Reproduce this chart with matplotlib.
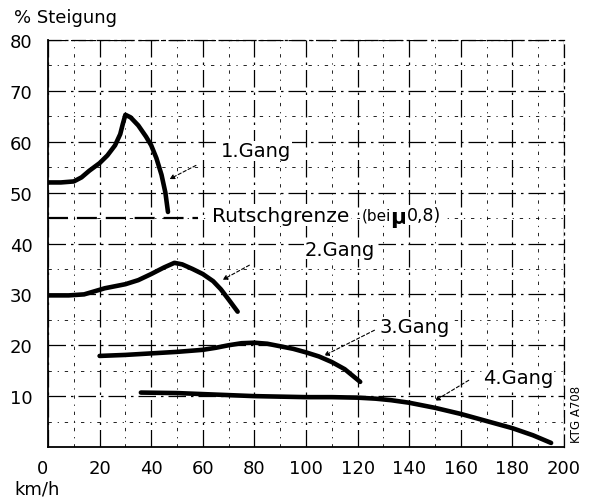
import matplotlib.pyplot as plt
import numpy as np
from matplotlib.ticker import MultipleLocator

# gradeability per gear
g1_v = [0, 5, 10, 13, 16, 20, 23, 26, 28, 29, 30, 32, 35, 38, 40, 42, 44, 45.5, 46.5]
g1_s = [52, 52, 52.2, 53, 54.3, 55.8, 57.3, 59.3, 61.5, 63.5, 65.3, 64.8, 63.2,
        61, 59.3, 56.8, 53.5, 50, 46.2]

g2_v = [0, 8, 14, 18, 22, 30, 35, 40, 45, 49, 52, 56, 60, 64, 67, 70, 73.5]
g2_s = [29.8, 29.8, 30, 30.6, 31.2, 32, 32.8, 34, 35.3, 36.2, 35.9, 35, 34,
        32.6, 31, 29, 26.6]

g3_v = [20, 30, 40, 50, 60, 65, 70, 75, 80, 85, 90, 95, 100, 105, 110, 115, 121]
g3_s = [17.9, 18.1, 18.4, 18.7, 19.1, 19.5, 20, 20.4, 20.5, 20.3, 19.8, 19.3,
        18.6, 17.8, 16.7, 15.3, 12.8]

g4_v = [36, 50, 60, 70, 80, 90, 100, 110, 120, 127, 133, 140, 150, 160, 170,
        180, 188, 195]
g4_s = [10.7, 10.6, 10.4, 10.2, 10, 9.9, 9.8, 9.8, 9.7, 9.5, 9.2, 8.7, 7.7,
        6.5, 5.1, 3.7, 2.3, 0.8]

slip_limit = 45
gear_labels = ['1.Gang', '2.Gang', '3.Gang', '4.Gang']
x_ticks = [0, 20, 40, 60, 80, 100, 120, 140, 160, 180, 200]
y_ticks = [10, 20, 30, 40, 50, 60, 70, 80]

plt.rcParams['font.family'] = ['DejaVu Sans']
fig = plt.figure(figsize=(5.93, 5.02), dpi=100)
ax = fig.add_axes([48/593, 54/502, 516/593, 407/502])

ax.set_xlim(0, 200)
ax.set_ylim(0, 80)

# grid: major every 20 km/h / 10 %, minor every 10 km/h / 5 %
ax.xaxis.set_major_locator(MultipleLocator(20))
ax.yaxis.set_major_locator(MultipleLocator(10))
ax.xaxis.set_minor_locator(MultipleLocator(10))
ax.yaxis.set_minor_locator(MultipleLocator(5))
ax.grid(which='major', color='black', lw=0.9, linestyle=(0, (14, 4, 2, 4)))
ax.grid(which='minor', color='black', lw=0.6, linestyle=(0, (4, 7, 1.5, 7)))
ax.set_axisbelow(True)

for s in ['top', 'right']:
    ax.spines[s].set_linestyle((0, (10, 4, 1.5, 4)))
    ax.spines[s].set_linewidth(0.9)
for s in ['left', 'bottom']:
    ax.spines[s].set_linewidth(1.3)

ax.set_xticks(x_ticks)
ax.set_xticklabels([str(t) for t in x_ticks])
ax.set_yticks(y_ticks)
ax.set_yticklabels([str(t) for t in y_ticks])
ax.tick_params(which='both', length=0)
ax.tick_params(axis='y', pad=11, labelsize=13)
ax.tick_params(axis='x', pad=9, labelsize=13)
ax.get_xticklabels()[0].set_horizontalalignment('right')

lw = 3.3
for v, s in [(g1_v, g1_s), (g2_v, g2_s), (g3_v, g3_s), (g4_v, g4_s)]:
    ax.plot(v, s, color='black', lw=lw, solid_capstyle='round',
            solid_joinstyle='round', zorder=4)

# slip limit
white = dict(facecolor='white', edgecolor='none', pad=1)
ax.plot([0, 58], [slip_limit, slip_limit], color='black', lw=1.6,
        linestyle=(0, (9, 4)), zorder=4)
ax.text(63.5, slip_limit + 0.6, 'Rutschgrenze', fontsize=14.5, va='center',
        ha='left', zorder=5, bbox=white)
ax.text(121.5, slip_limit + 0.6, '(bei', fontsize=11, va='center', ha='left',
        zorder=5, bbox=white)
ax.text(132.5, slip_limit + 0.2, 'μ', fontsize=16, fontweight='bold',
        va='center', ha='left', zorder=5, bbox=white)
ax.text(139, slip_limit + 0.6, '0,8)', fontsize=12.5, va='center', ha='left',
        zorder=5, bbox=white)

# gear labels with leader lines
label_pos = [(67, 58.2), (99.5, 38.9), (128.5, 23.6), (168.5, 13.6)]
leader_from = [(58.3, 55.6), (79, 36), (127.5, 23.2), (164, 13.4)]
leader_to = [(46.1, 52.4), (66.7, 32.6), (106, 17.7), (149, 8.8)]
for name, p, a, b in zip(gear_labels, label_pos, leader_from, leader_to):
    ax.text(p[0], p[1], name, fontsize=14, va='center', ha='left', zorder=5,
            bbox=dict(facecolor='white', edgecolor='none', pad=0.5))
    ax.annotate('', xy=b, xytext=a,
                arrowprops=dict(arrowstyle='-|>', color='black', lw=0.8,
                                linestyle=(0, (3, 2)), mutation_scale=7),
                zorder=5)

ax.text(205, 6.5, 'KTG A708', fontsize=8.5, rotation=90, va='center',
        ha='center', clip_on=False)

fig.text(14/593, 1 - 18/502, '% Steigung', fontsize=13, va='center', ha='left')
fig.text(14/593, 12/502, 'km/h', fontsize=13, va='center', ha='left')

fig.savefig('out.png', dpi=100, facecolor='white')
